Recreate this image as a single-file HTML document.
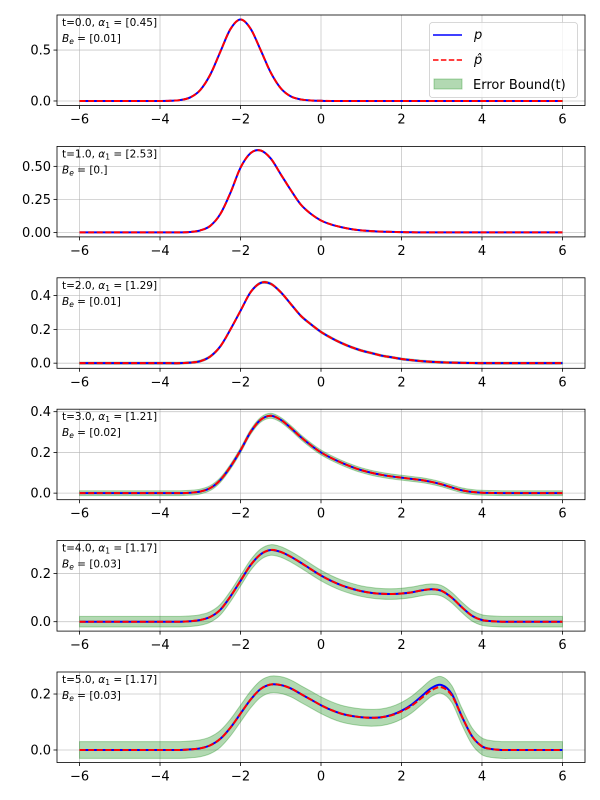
<!DOCTYPE html>
<html><head><meta charset="utf-8"><style>
html,body{margin:0;padding:0;background:#fff;}
svg{display:block;font-family:"DejaVu Sans","Liberation Sans",sans-serif;}
</style></head><body>
<svg id="fig" width="600" height="800" viewBox="0 0 600 800" xmlns="http://www.w3.org/2000/svg"></svg>
<script>
const xs = [-6,-5.75,-5.5,-5.25,-5,-4.75,-4.5,-4.25,-4,-3.75,-3.5,-3.25,-3,-2.75,-2.5,-2.25,-2,-1.75,-1.5,-1.25,-1,-0.75,-0.5,-0.25,0,0.25,0.5,0.75,1,1.25,1.5,1.75,2,2.25,2.5,2.75,3,3.25,3.5,3.75,4,4.25,4.5,4.75,5,5.25,5.5,5.75,6];
const z9 = [0,0,0,0,0,0,0,0,0];
const p0 = z9.concat([0.002,0.009,0.035,0.108,0.26,0.485,0.706,0.8,0.71,0.50,0.28,0.125,0.045,0.015,0.005,0.002,0,0,0,0,0,0,0,0,0,0,0,0,0,0,0,0,0,0,0,0,0,0,0,0]);
const p1 = z9.concat([0,0,0.003,0.015,0.05,0.14,0.3,0.49,0.6,0.62,0.56,0.44,0.32,0.21,0.14,0.09,0.06,0.04,0.025,0.015,0.01,0.006,0.004,0.002,0.001,0,0,0,0,0,0,0,0,0,0,0,0,0,0,0]);
const p2 = z9.concat([0,0,0.003,0.012,0.04,0.1,0.2,0.31,0.42,0.475,0.47,0.42,0.35,0.28,0.23,0.185,0.15,0.12,0.095,0.075,0.06,0.045,0.035,0.025,0.018,0.012,0.008,0.005,0.003,0.002,0.001,0,0,0,0,0,0,0,0,0]);
const p3 = z9.concat([0,0,0.002,0.008,0.025,0.065,0.13,0.21,0.3,0.36,0.38,0.36,0.32,0.275,0.235,0.2,0.173,0.15,0.13,0.113,0.1,0.09,0.082,0.076,0.07,0.064,0.055,0.043,0.028,0.014,0.006,0.002,0.001,0,0,0,0,0,0,0,0]);
const p4 = z9.concat([0,0,0.002,0.007,0.02,0.05,0.105,0.17,0.235,0.28,0.298,0.29,0.27,0.245,0.218,0.192,0.17,0.152,0.138,0.127,0.12,0.116,0.115,0.117,0.122,0.13,0.135,0.128,0.1,0.06,0.025,0.007,0.002,0,0,0,0,0,0,0,0]);
const p5 = z9.concat([0,0,0.002,0.006,0.017,0.04,0.08,0.13,0.18,0.218,0.234,0.232,0.22,0.2,0.18,0.16,0.143,0.13,0.122,0.117,0.115,0.117,0.125,0.14,0.162,0.192,0.222,0.232,0.2,0.12,0.05,0.013,0.003,0,0,0,0,0,0,0,0]);
const ph5 = z9.concat([0,0,0.002,0.006,0.017,0.04,0.08,0.13,0.18,0.218,0.234,0.232,0.22,0.2,0.18,0.16,0.143,0.13,0.122,0.117,0.115,0.117,0.124,0.138,0.158,0.186,0.214,0.224,0.195,0.12,0.05,0.013,0.003,0,0,0,0,0,0,0,0]);
const pSeries = [p0,p1,p2,p3,p4,p5];
const phatSeries = [p0,p1,p2,p3,p4,ph5];
const errBounds = [0.004,0.0,0.006,0.012,0.022,0.03];
const tLabels = ["0.0","1.0","2.0","3.0","4.0","5.0"];
const alphaLabels = ["[0.45]","[2.53]","[1.29]","[1.21]","[1.17]","[1.17]"];
const beLabels = ["[0.01]","[0.]","[0.01]","[0.02]","[0.03]","[0.03]"];
const xTicks = [-6,-4,-2,0,2,4,6];
const yTicks = [[0,0.5],[0,0.25,0.5],[0,0.2,0.4],[0,0.2,0.4],[0,0.2],[0,0.2]];
const yTickLabels = [["0.0","0.5"],["0.00","0.25","0.50"],["0.0","0.2","0.4"],["0.0","0.2","0.4"],["0.0","0.2"],["0.0","0.2"]];

const NS="http://www.w3.org/2000/svg";
const svg=document.getElementById('fig');
function mk(tag,attrs,parent){const e=document.createElementNS(NS,tag);for(const k in attrs)e.setAttribute(k,attrs[k]);(parent||svg).appendChild(e);return e;}
const AX_L=57,AX_R=585,XMIN=-6.56,XMAX=6.56;
function sx(v){return AX_L+(v-XMIN)/(XMAX-XMIN)*(AX_R-AX_L);}
function smooth(pts){
  let d='M'+pts[0][0].toFixed(2)+','+pts[0][1].toFixed(2);
  for(let i=0;i<pts.length-1;i++){
    const p0=pts[Math.max(0,i-1)],p1=pts[i],p2=pts[i+1],p3=pts[Math.min(pts.length-1,i+2)];
    const c1x=p1[0]+(p2[0]-p0[0])/6,c1y=p1[1]+(p2[1]-p0[1])/6;
    const c2x=p2[0]-(p3[0]-p1[0])/6,c2y=p2[1]-(p3[1]-p1[1])/6;
    d+=' C'+c1x.toFixed(2)+','+c1y.toFixed(2)+' '+c2x.toFixed(2)+','+c2y.toFixed(2)+' '+p2[0].toFixed(2)+','+p2[1].toFixed(2);
  }
  return d;
}
for(let i=0;i<6;i++){
  const top=15+131.4*i,h=90.5,bot=top+h;
  const p=pSeries[i],ph=phatSeries[i],eb=errBounds[i];
  let lo=Math.min(...p)-Math.max(eb,0.003),hi=Math.max(...p)+eb;
  const m=(hi-lo)*0.05;lo-=m;hi+=m;
  const sy=v=>bot-(v-lo)/(hi-lo)*h;
  const g=mk('g',{});
  
  
  const cid='clip'+i;
  const cp=mk('clipPath',{id:cid},g);mk('rect',{x:AX_L,y:top,width:AX_R-AX_L,height:h},cp);
  xTicks.forEach(t=>{const l=mk('line',{x1:sx(t),x2:sx(t),y1:top,y2:bot,stroke:'#b0b0b0','stroke-width':0.8,'stroke-opacity':0.7},g);});
  yTicks[i].forEach(t=>{const l=mk('line',{x1:AX_L,x2:AX_R,y1:sy(t),y2:sy(t),stroke:'#b0b0b0','stroke-width':0.8,'stroke-opacity':0.7},g);});
  const cg=mk('g',{'clip-path':'url(#'+cid+')'},g);
  if(eb>0){
    const up=xs.map((x,k)=>[sx(x),sy(p[k]+eb)]);
    const dn=xs.map((x,k)=>[sx(x),sy(p[k]-eb)]).reverse();
    let d=smooth(up)+' L'+dn[0][0]+','+dn[0][1]+smooth(dn).replace(/^M[^ C]+/,'')+' Z';
    const b=mk('path',{d:d,fill:'#008000','fill-opacity':0.3,stroke:'#008000','stroke-opacity':0.3,'stroke-width':1},cg);
    
    
  }
  const lp=mk('path',{d:smooth(xs.map((x,k)=>[sx(x),sy(p[k])])),fill:'none',stroke:'#0000ff','stroke-width':2},cg);
  
  
  const lh=mk('path',{d:smooth(xs.map((x,k)=>[sx(x),sy(ph[k])])),fill:'none',stroke:'#ff0000','stroke-width':2,'stroke-dasharray':'6,2.6'},cg);
  
  
  const fr=mk('rect',{x:AX_L,y:top,width:AX_R-AX_L,height:h,fill:'none',stroke:'#000','stroke-width':0.8},g);
  
  
  xTicks.forEach(t=>{
    mk('line',{x1:sx(t),x2:sx(t),y1:bot,y2:bot+3.5,stroke:'#000','stroke-width':0.8},g);
    const tx=mk('text',{x:sx(t),y:bot+18,'font-size':13,'text-anchor':'middle',fill:'#000'},g);
    tx.textContent=(t<0?'\u2212'+(-t):''+t);
    
    
  });
  yTicks[i].forEach((t,k)=>{
    mk('line',{x1:AX_L-3.5,x2:AX_L,y1:sy(t),y2:sy(t),stroke:'#000','stroke-width':0.8},g);
    const tx=mk('text',{x:AX_L-6,y:sy(t)+4.5,'font-size':13,'text-anchor':'end',fill:'#000'},g);
    tx.textContent=yTickLabels[i][k];
    
    
  });
  const a1=mk('text',{x:62,y:top+11,'font-size':10.5,fill:'#000'},g);
  a1.innerHTML='t='+tLabels[i]+', <tspan font-style="italic">α</tspan><tspan font-size="7.5" dy="2">1</tspan><tspan dy="-2"> = '+alphaLabels[i]+'</tspan>';
  
  
  const a2=mk('text',{x:62,y:top+27,'font-size':10.5,fill:'#000'},g);
  a2.innerHTML='<tspan font-style="italic">B</tspan><tspan font-style="italic" font-size="7.5" dy="2">e</tspan><tspan dy="-2"> = '+beLabels[i]+'</tspan>';
  
  
}
const lg=mk('g',{});


mk('rect',{x:429.5,y:22.5,width:148,height:75,rx:3,fill:'#fff','fill-opacity':0.8,stroke:'#ccc','stroke-width':0.8},lg);
mk('line',{x1:433,x2:462,y1:35,y2:35,stroke:'#0000ff','stroke-width':1.5},lg);
mk('line',{x1:433,x2:462,y1:60,y2:60,stroke:'#ff0000','stroke-width':1.5,'stroke-dasharray':'5.5,2.4'},lg);
mk('rect',{x:434,y:79,width:28,height:10,fill:'#008000','fill-opacity':0.3,stroke:'#008000','stroke-opacity':0.3},lg);
const t1=mk('text',{x:474,y:39,'font-size':13,'font-style':'italic'},lg);t1.textContent='p';


const t2=mk('text',{x:474,y:64,'font-size':13,'font-style':'italic'},lg);t2.textContent='p\u0302';


const t3=mk('text',{x:473,y:89,'font-size':13},lg);t3.textContent='Error Bound(t)';


</script>
</body></html>
